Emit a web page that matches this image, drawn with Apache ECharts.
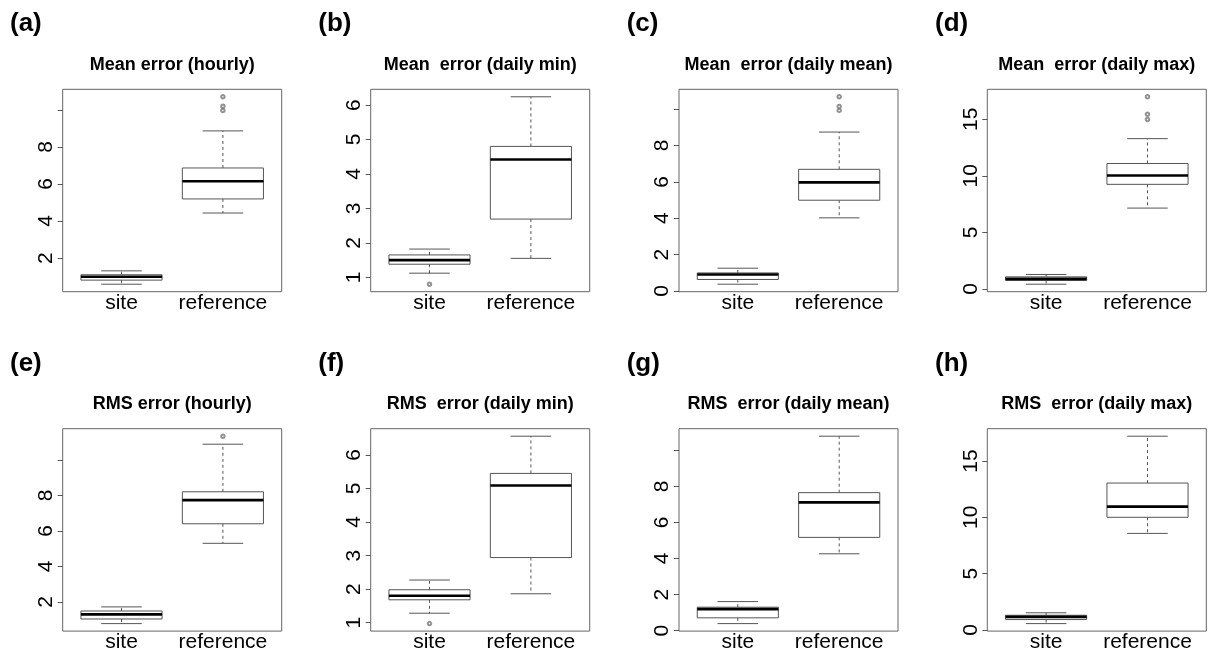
<!DOCTYPE html>
<html><head><meta charset="utf-8">
<script src="https://cdn.jsdelivr.net/npm/echarts@6/dist/echarts.min.js"></script>
<style>html,body{margin:0;padding:0;background:#fff}#c{width:1210px;height:655px}</style>
</head><body><div id="c"></div>
<script>
// ---------------- data ----------------
const categories = ['site', 'reference'];
const panelLetters = ['(a)', '(b)', '(c)', '(d)', '(e)', '(f)', '(g)', '(h)'];
const panelTitles = [
  'Mean error (hourly)', 'Mean  error (daily min)', 'Mean  error (daily mean)', 'Mean  error (daily max)',
  'RMS error (hourly)', 'RMS  error (daily min)', 'RMS  error (daily mean)', 'RMS  error (daily max)'
];
// [lower whisker, Q1, median, Q3, upper whisker]
const siteStats = [
  [0.59, 0.81, 0.99, 1.10, 1.31],
  [1.12, 1.38, 1.50, 1.65, 1.82],
  [0.37, 0.63, 0.90, 0.99, 1.25],
  [0.42, 0.75, 0.89, 1.07, 1.28],
  [0.78, 1.04, 1.30, 1.49, 1.72],
  [1.28, 1.68, 1.80, 1.98, 2.27],
  [0.39, 0.71, 1.19, 1.30, 1.61],
  [0.56, 0.92, 1.16, 1.30, 1.52]
];
const referenceStats = [
  [4.43, 5.19, 6.14, 6.86, 8.86],
  [1.55, 2.69, 4.42, 4.80, 6.24],
  [4.02, 4.99, 5.97, 6.69, 8.74],
  [7.15, 9.25, 10.03, 11.09, 13.29],
  [5.30, 6.40, 7.73, 8.20, 10.88],
  [1.86, 2.94, 5.09, 5.45, 6.56],
  [4.26, 5.17, 7.11, 7.65, 10.78],
  [8.57, 10.00, 10.95, 13.04, 17.20]
];
const siteOutliers = [[], [0.80], [], [], [], [0.97], [], []];
const referenceOutliers = [[9.96, 10.19, 10.70], [], [9.93, 10.15, 10.68], [14.98, 15.45, 16.99], [11.33], [], [], []];
const yTicks = [
  [2, 4, 6, 8, 10], [1, 2, 3, 4, 5, 6], [0, 2, 4, 6, 8, 10], [0, 5, 10, 15],
  [2, 4, 6, 8, 10], [1, 2, 3, 4, 5, 6], [0, 2, 4, 6, 8, 10], [0, 5, 10, 15]
];
const yTickLabels = [
  [2, 4, 6, 8], [1, 2, 3, 4, 5, 6], [0, 2, 4, 6, 8], [0, 5, 10, 15],
  [2, 4, 6, 8], [1, 2, 3, 4, 5, 6], [0, 2, 4, 6, 8], [0, 5, 10, 15]
];

// ---------------- layout ----------------
const FONT = "'Liberation Sans', Arial, Helvetica, sans-serif";
const gridLefts = [62.7, 370.7, 679, 987.3];
const gridTops = [89.3, 428.7];
const gridW = 219, gridH = 202.4;
const letterLefts = [10, 318.3, 626.7, 935];
const letterY = [24, 363.5];
const titleY = [65, 404];

const chart = echarts.init(document.getElementById('c'), null, {renderer: 'canvas'});

function renderBox(params, api) {
  const x = api.value(0);
  const vals = [api.value(1), api.value(2), api.value(3), api.value(4), api.value(5)];
  const ys = vals.map(v => api.coord([x, v])[1]);
  const cx = api.coord([x, vals[2]])[0];
  const half = api.size([0.8, 0])[0] / 2;
  const ln = {stroke: '#555', lineWidth: 1};
  const dash = {stroke: '#555', lineWidth: 1, lineDash: [3, 3]};
  return {
    type: 'group',
    children: [
      {type: 'line', shape: {x1: cx, y1: ys[3], x2: cx, y2: ys[4]}, style: dash},
      {type: 'line', shape: {x1: cx, y1: ys[1], x2: cx, y2: ys[0]}, style: dash},
      {type: 'line', shape: {x1: cx - half / 2, y1: ys[4], x2: cx + half / 2, y2: ys[4]}, style: ln},
      {type: 'line', shape: {x1: cx - half / 2, y1: ys[0], x2: cx + half / 2, y2: ys[0]}, style: ln},
      {type: 'rect', shape: {x: cx - half, y: ys[3], width: 2 * half, height: ys[1] - ys[3]},
        style: {fill: '#fff', stroke: '#555', lineWidth: 1}},
      {type: 'line', shape: {x1: cx - half, y1: ys[2], x2: cx + half, y2: ys[2]}, style: {stroke: '#000', lineWidth: 2.6}}
    ]
  };
}

const grids = [], xAxes = [], yAxes = [], series = [], graphics = [];
for (let i = 0; i < 8; i++) {
  const col = i % 4, row = Math.floor(i / 4);
  grids.push({left: gridLefts[col], top: gridTops[row], width: gridW, height: gridH,
    show: true, borderColor: '#666', borderWidth: 1, backgroundColor: 'transparent', containLabel: false});
  const all = siteStats[i].concat(referenceStats[i], siteOutliers[i], referenceOutliers[i]);
  const lo = Math.min(...all), hi = Math.max(...all), r = hi - lo;
  xAxes.push({gridIndex: i, type: 'value', min: 0.42, max: 2.58,
    axisLine: {show: false}, axisTick: {show: false}, splitLine: {show: false},
    axisLabel: {customValues: [1, 2], formatter: v => categories[Math.round(v) - 1],
      fontFamily: FONT, fontSize: 21, color: '#000', margin: 1}});
  yAxes.push({gridIndex: i, type: 'value', min: lo - 0.04 * r, max: hi + 0.04 * r,
    axisLine: {show: false}, splitLine: {show: false},
    axisTick: {show: true, inside: false, length: 5, customValues: yTicks[i], lineStyle: {color: '#555'}},
    axisLabel: {customValues: yTickLabels[i], rotate: 90, fontFamily: FONT, fontSize: 21, color: '#000', margin: 6}});
  series.push({type: 'custom', xAxisIndex: i, yAxisIndex: i, renderItem: renderBox,
    encode: {x: 0, y: [1, 2, 3, 4, 5]},
    data: [[1].concat(siteStats[i]), [2].concat(referenceStats[i])], silent: true});
  const outs = siteOutliers[i].map(v => [1, v]).concat(referenceOutliers[i].map(v => [2, v]));
  series.push({type: 'scatter', xAxisIndex: i, yAxisIndex: i, data: outs, symbol: 'emptyCircle', symbolSize: 3.5,
    itemStyle: {color: '#777', borderWidth: 1}, silent: true});
  graphics.push({type: 'text', x: gridLefts[col] + gridW / 2, y: titleY[row],
    style: {text: panelTitles[i], font: 'bold 18px ' + FONT, fill: '#000', textAlign: 'center', textVerticalAlign: 'middle'}});
  graphics.push({type: 'text', x: letterLefts[col], y: letterY[row],
    style: {text: panelLetters[i], font: 'bold 26px ' + FONT, fill: '#000', textAlign: 'left', textVerticalAlign: 'middle'}});
}

chart.setOption({
  animation: false,
  backgroundColor: '#fff',
  grid: grids, xAxis: xAxes, yAxis: yAxes, series: series, graphic: graphics
});
</script>
</body></html>
